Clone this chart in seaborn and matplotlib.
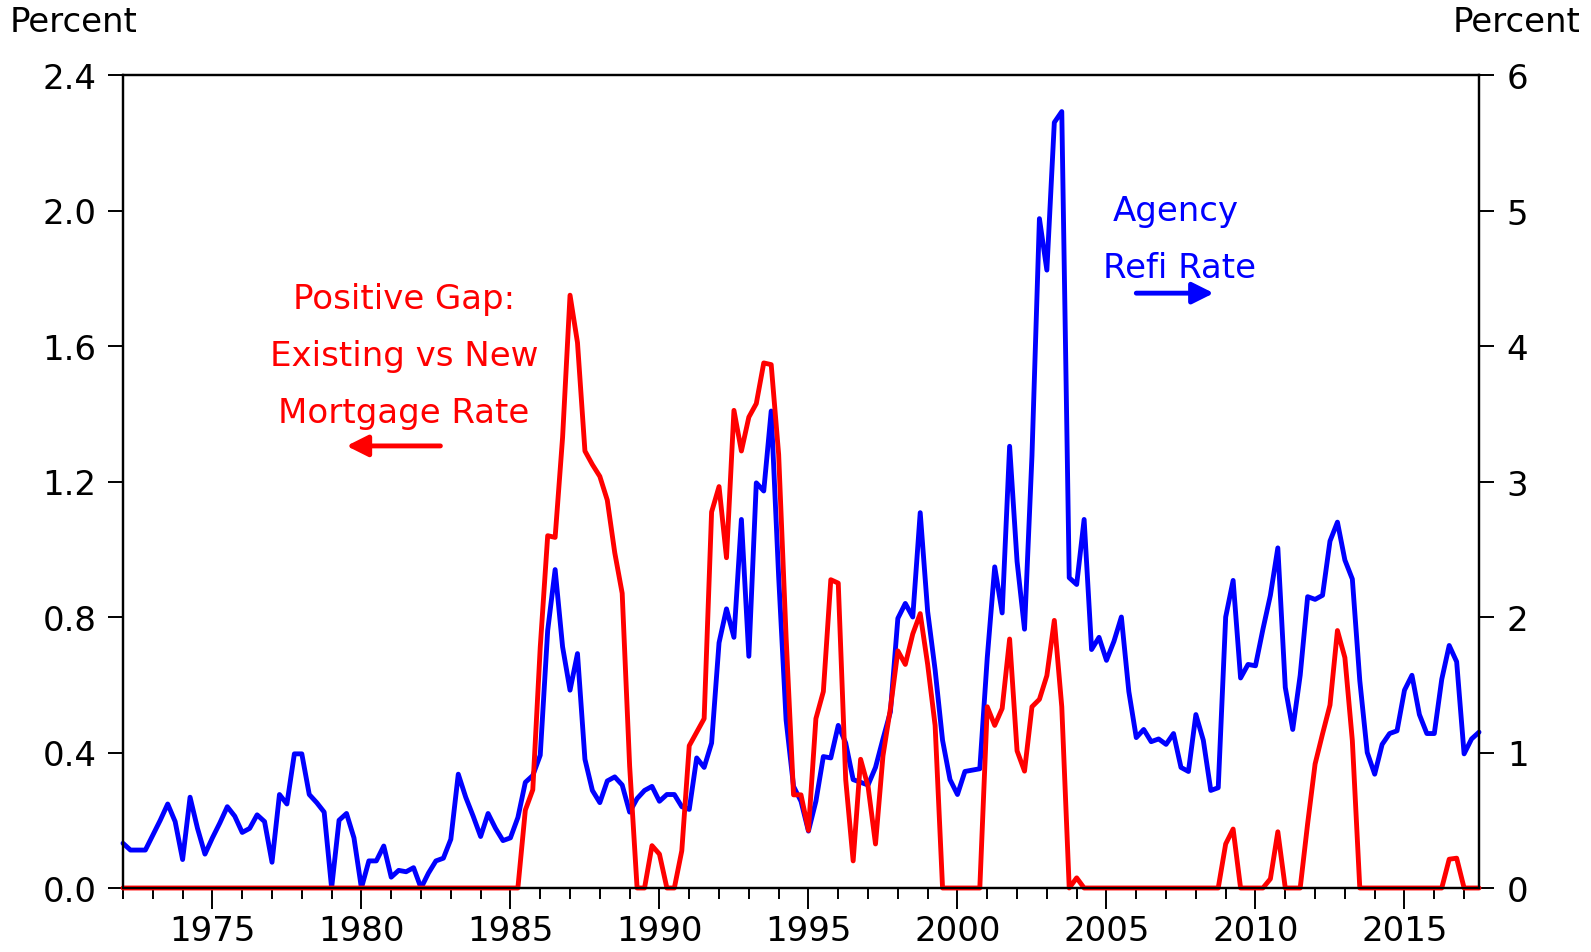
import numpy as np
import pandas as pd
import matplotlib
matplotlib.use("Agg")
import matplotlib.pyplot as plt
import seaborn as sns

# Quarterly observations, 1972Q1 .. 2017Q3
start_year = 1972
n_quarters = 183

# Agency refi rate (right axis, percent)
refi_rate = [
    0.33, 0.28, 0.28, 0.28, 0.39, 0.50, 0.62, 0.49, 0.21, 0.67,
    0.44, 0.25, 0.37, 0.48, 0.60, 0.53, 0.41, 0.44, 0.54, 0.49,
    0.19, 0.69, 0.62, 0.99, 0.99, 0.69, 0.63, 0.56, 0.00, 0.50,
    0.55, 0.37, 0.00, 0.20, 0.20, 0.31, 0.08, 0.13, 0.12, 0.15,
    0.00, 0.11, 0.20, 0.22, 0.36, 0.84, 0.67, 0.53, 0.38, 0.55,
    0.44, 0.35, 0.37, 0.52, 0.78, 0.83, 0.98, 1.90, 2.35, 1.78,
    1.46, 1.73, 0.95, 0.72, 0.63, 0.79, 0.82, 0.76, 0.56, 0.66,
    0.72, 0.75, 0.64, 0.69, 0.69, 0.60, 0.58, 0.96, 0.89, 1.07,
    1.81, 2.06, 1.85, 2.72, 1.71, 2.99, 2.93, 3.52, 2.30, 1.24,
    0.75, 0.64, 0.42, 0.64, 0.97, 0.96, 1.20, 1.07, 0.80, 0.78,
    0.76, 0.89, 1.10, 1.30, 1.99, 2.10, 2.00, 2.77, 2.04, 1.61,
    1.09, 0.80, 0.69, 0.86, 0.87, 0.88, 1.70, 2.37, 2.03, 3.26,
    2.41, 1.91, 3.19, 4.94, 4.56, 5.65, 5.73, 2.29, 2.24, 2.72,
    1.76, 1.85, 1.68, 1.82, 2.00, 1.45, 1.11, 1.17, 1.08, 1.10,
    1.06, 1.14, 0.89, 0.86, 1.28, 1.09, 0.72, 0.74, 2.00, 2.27,
    1.55, 1.65, 1.64, 1.91, 2.16, 2.51, 1.48, 1.17, 1.57, 2.15,
    2.13, 2.16, 2.56, 2.70, 2.42, 2.28, 1.53, 1.00, 0.84, 1.06,
    1.14, 1.16, 1.46, 1.57, 1.28, 1.14, 1.14, 1.54, 1.79, 1.67,
    0.99, 1.10, 1.15,
]

# Positive gap: existing vs new mortgage rate (left axis, percent)
rate_gap = [
    0, 0, 0, 0, 0, 0, 0, 0, 0, 0,
    0, 0, 0, 0, 0, 0, 0, 0, 0, 0,
    0, 0, 0, 0, 0, 0, 0, 0, 0, 0,
    0, 0, 0, 0, 0, 0, 0, 0, 0, 0,
    0, 0, 0, 0, 0, 0, 0, 0, 0, 0,
    0, 0, 0, 0, 0.23, 0.29, 0.71, 1.04, 1.035, 1.33,
    1.75, 1.61, 1.29, 1.25, 1.215, 1.145, 0.99, 0.87, 0.36, 0,
    0, 0.125, 0.10, 0, 0, 0.11, 0.42, 0.46, 0.50, 1.11,
    1.185, 0.975, 1.41, 1.29, 1.39, 1.43, 1.55, 1.545, 1.28, 0.74,
    0.275, 0.275, 0.17, 0.50, 0.58, 0.91, 0.90, 0.32, 0.08, 0.38,
    0.30, 0.13, 0.39, 0.53, 0.70, 0.66, 0.75, 0.81, 0.66, 0.48,
    0, 0, 0, 0, 0, 0, 0.535, 0.48, 0.53, 0.735,
    0.405, 0.345, 0.535, 0.557, 0.627, 0.79, 0.535, 0, 0.03, 0,
    0, 0, 0, 0, 0, 0, 0, 0, 0, 0,
    0, 0, 0, 0, 0, 0, 0, 0, 0.13, 0.174,
    0, 0, 0, 0, 0.027, 0.166, 0, 0, 0, 0.19,
    0.366, 0.455, 0.54, 0.76, 0.68, 0.435, 0, 0, 0, 0,
    0, 0, 0, 0, 0, 0, 0, 0, 0.085, 0.088,
    0, 0, 0,
]

left_ticks = [0.0, 0.4, 0.8, 1.2, 1.6, 2.0, 2.4]
left_tick_labels = ["0.0", "0.4", "0.8", "1.2", "1.6", "2.0", "2.4"]
right_ticks = [0, 1, 2, 3, 4, 5, 6]
right_tick_labels = ["0", "1", "2", "3", "4", "5", "6"]
major_years = [1975, 1980, 1985, 1990, 1995, 2000, 2005, 2010, 2015]
minor_years = list(range(1972, 2018))

dates = start_year + np.arange(n_quarters) / 4.0
df = pd.DataFrame({"date": dates, "refi": refi_rate, "gap": rate_gap})

sns.set_style("white")
plt.rcParams["font.family"] = ["DejaVu Sans"]
plt.rcParams["text.color"] = "black"

FS = 24.5
fig = plt.figure(figsize=(15.91, 9.53), dpi=100)
ax = fig.add_axes([123 / 1591, 1 - 889 / 953, (1479 - 123) / 1591, (889 - 76) / 953])
ax2 = ax.twinx()

sns.lineplot(data=df, x="date", y="refi", ax=ax2, color="#0000FF", lw=3.5,
             legend=False, clip_on=False)
sns.lineplot(data=df, x="date", y="gap", ax=ax, color="#FF0000", lw=3.5,
             legend=False, clip_on=False)

# red on top of blue
ax.set_zorder(ax2.get_zorder() + 1)
ax.patch.set_visible(False)

ax.set_xlim(1972, 2017.5)
ax.set_ylim(0, 2.4)
ax2.set_ylim(0, 6)

ax.set_yticks(left_ticks)
ax.set_yticklabels(left_tick_labels)
ax2.set_yticks(right_ticks)
ax2.set_yticklabels(right_tick_labels)
ax.set_xticks(major_years)
ax.set_xticklabels([str(y) for y in major_years])
ax.set_xticks(minor_years, minor=True)

for a in (ax, ax2):
    a.set_xlabel("")
    a.set_ylabel("")
    for s in a.spines.values():
        s.set_color("black")
        s.set_linewidth(1.6)
        s.set_visible(True)

ax.tick_params(axis="y", which="both", direction="out", length=11, width=1.4,
               labelsize=FS, pad=8, left=True, right=False, colors="black")
ax2.tick_params(axis="y", which="both", direction="out", length=11, width=1.4,
                labelsize=FS, pad=9, right=True, left=False, colors="black")
ax.tick_params(axis="x", which="major", direction="out", length=15, width=1.4,
               labelsize=FS, pad=4, bottom=True, top=False, colors="black")
ax.tick_params(axis="x", which="minor", direction="out", length=8, width=1.4,
               bottom=True, top=False, colors="black")
ax2.tick_params(axis="x", which="both", bottom=False, top=False, labelbottom=False)

fig.text(10 / 1591, 1 - 22 / 953, "Percent", ha="left", va="center",
         fontsize=FS, color="black")
fig.text(1580 / 1591, 1 - 22 / 953, "Percent", ha="right", va="center",
         fontsize=FS, color="black")

red = "#FF0000"
blue = "#0000FF"
for txt, yy in [("Positive Gap:", 1.74), ("Existing vs New", 1.571), ("Mortgage Rate", 1.403)]:
    ax.text(1981.43, yy, txt, color=red, fontsize=FS, ha="center", va="center")
ax.annotate("", xy=(1979.5, 1.305), xytext=(1982.65, 1.305),
            arrowprops=dict(arrowstyle="-|>", color=red, lw=3.5, mutation_scale=32,
                            shrinkA=0, shrinkB=0))

ax.text(2007.33, 2.0, "Agency", color=blue, fontsize=FS, ha="center", va="center")
ax.text(2007.44, 1.831, "Refi Rate", color=blue, fontsize=FS, ha="center", va="center")
ax.annotate("", xy=(2008.6, 1.756), xytext=(2006.0, 1.756),
            arrowprops=dict(arrowstyle="-|>", color=blue, lw=3.5, mutation_scale=32,
                            shrinkA=0, shrinkB=0))

fig.savefig("out.png", dpi=100, facecolor="white")
